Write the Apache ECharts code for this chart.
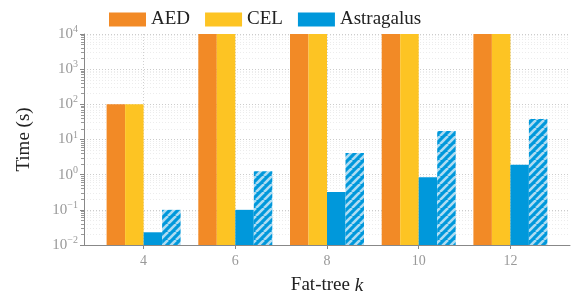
<!DOCTYPE html>
<html>
<head>
<meta charset="utf-8">
<script src="https://cdn.jsdelivr.net/npm/echarts@6/dist/echarts.min.js"></script>
<style>
    html, body { margin: 0; padding: 0; background: #fff; }
    #chart01 { width: 578px; height: 296px; }
</style>
</head>
<body>
<div id="chart01"></div>
<script>
// fat-tree k values
var kValues = [4, 6, 8, 10, 12];
var kTicks = [4, 6, 8, 10, 12];
// time in seconds
var aedTime = [100, 10000, 10000, 10000, 10000];
var celTime = [100, 10000, 10000, 10000, 10000];
var astraTime = [0.023, 0.1, 0.32, 0.85, 1.9];
var astraHatchTime = [0.1, 1.26, 4.1, 17.5, 38];
var majorTicks = [0.01, 0.1, 1, 10, 100, 1000, 10000];

// minor log ticks 2..9 in every decade
var minorTicks = [];
for (var d = 0; d < majorTicks.length - 1; d++) {
    for (var m = 2; m <= 9; m++) {
        minorTicks.push(+(majorTicks[d] * m).toPrecision(3));
    }
}

function pair(xs, ys) {
    return xs.map(function (x, i) { return [x, ys[i]]; });
}

function hatch() {
    var c = document.createElement('canvas');
    c.width = 8;
    c.height = 8;
    var ctx = c.getContext('2d');
    ctx.fillStyle = '#0098db';
    ctx.fillRect(0, 0, 8, 8);
    ctx.strokeStyle = '#aedcf2';
    ctx.lineWidth = 2.6;
    [-8, 0, 8].forEach(function (o) {
        ctx.beginPath();
        ctx.moveTo(o, 8);
        ctx.lineTo(o + 8, 0);
        ctx.stroke();
    });
    return c;
}

function chart01(id) {
    var myChart = echarts.init(document.getElementById(id));
    var serif = '"Liberation Serif", "DejaVu Serif", serif';
    var barW = 18.5;
    var option = {
        animation: false,
        textStyle: { fontFamily: serif },
        grid: {
            left: 84,
            right: 8,
            top: 34,
            bottom: 51,
            outerBoundsMode: 'none'
        },
        legend: {
            top: 5,
            left: 104,
            itemWidth: 37,
            itemHeight: 14,
            itemGap: 15,
            icon: 'rect',
            textStyle: {
                fontFamily: serif,
                fontSize: 19,
                color: '#222'
            },
            data: ['AED', 'CEL', 'Astragalus']
        },
        xAxis: {
            type: 'value',
            min: 2.7,
            max: 13.3,
            name: '{n|Fat-tree }{k|k}',
            nameLocation: 'middle',
            nameGap: 31,
            nameTextStyle: {
                rich: {
                    n: { fontFamily: serif, fontSize: 19, color: '#222' },
                    k: { fontFamily: serif, fontSize: 19, color: '#222', fontStyle: 'italic' }
                }
            },
            axisLine: {
                show: true,
                lineStyle: { color: '#888' }
            },
            axisTick: {
                show: true,
                length: 4,
                customValues: kTicks,
                lineStyle: { color: '#888' }
            },
            axisLabel: {
                customValues: kTicks,
                fontFamily: serif,
                fontSize: 14,
                color: '#999',
                margin: 9
            },
            splitLine: {
                show: true,
                lineStyle: { color: '#d0d0d0', type: [1, 2] }
            }
        },
        yAxis: [
            {
                type: 'log',
                logBase: 10,
                min: 0.01,
                max: 10000,
                startValue: 0.01,
                name: 'Time (s)',
                nameLocation: 'middle',
                nameGap: 50,
                nameTextStyle: {
                    fontFamily: serif,
                    fontSize: 19,
                    color: '#222'
                },
                axisLine: {
                    show: true,
                    lineStyle: { color: '#888' }
                },
                axisTick: {
                    show: true,
                    length: 4,
                    lineStyle: { color: '#888' }
                },
                axisLabel: {
                    color: '#999',
                    margin: 6,
                    formatter: function (v) {
                        var e = Math.round(Math.log10(v));
                        return '{b|10}{s|' + (e < 0 ? '\u2212' + (-e) : e) + '}';
                    },
                    rich: {
                        b: { fontFamily: serif, fontSize: 15, color: '#999' },
                        s: { fontFamily: serif, fontSize: 10, color: '#999', verticalAlign: 'top', padding: [0, 0, 9, 0] }
                    }
                },
                splitLine: {
                    show: true,
                    lineStyle: { color: '#cccccc', type: [1, 2] }
                }
            },
            {
                type: 'log',
                logBase: 10,
                min: 0.01,
                max: 10000,
                position: 'left',
                axisLine: { show: false },
                axisLabel: { show: false },
                axisTick: {
                    show: true,
                    length: 3,
                    customValues: minorTicks,
                    lineStyle: { color: '#999' }
                },
                splitLine: {
                    show: true,
                    lineStyle: { color: '#ececec', type: [1, 2] }
                }
            }
        ],
        series: [
            {
                name: 'AED',
                type: 'bar',
                barWidth: barW,
                barGap: '0%',
                itemStyle: { color: '#f28a26' },
                data: pair(kValues, aedTime)
            },
            {
                name: 'CEL',
                type: 'bar',
                barWidth: barW,
                barGap: '0%',
                itemStyle: { color: '#fdc423' },
                data: pair(kValues, celTime)
            },
            {
                name: 'Astragalus',
                type: 'bar',
                barWidth: barW,
                barGap: '0%',
                itemStyle: { color: '#0098db' },
                data: pair(kValues, astraTime)
            },
            {
                name: 'Astragalus (total)',
                type: 'bar',
                barWidth: barW,
                barGap: '0%',
                itemStyle: {
                    color: { image: hatch(), repeat: 'repeat' }
                },
                data: pair(kValues, astraHatchTime)
            }
        ]
    };

    myChart.setOption(option);
    return myChart;
}

var chartInit01 = chart01('chart01');
window.addEventListener('resize', function () {
    chartInit01.resize();
});
</script>
</body>
</html>
